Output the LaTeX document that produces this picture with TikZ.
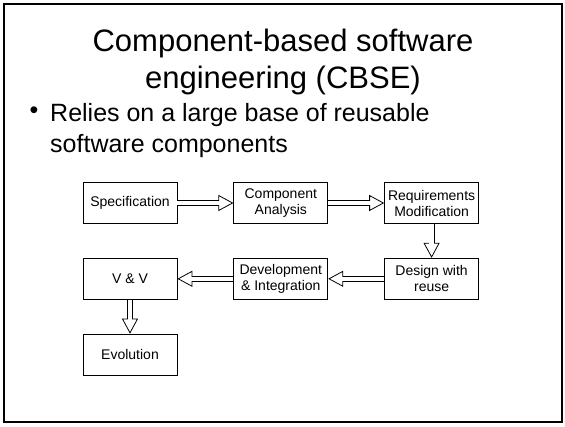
\documentclass[tikz,border=0pt]{standalone}
\usepackage{fontspec}
\setmainfont{Liberation Sans}
\usepackage{xcolor}
\usepackage{tikz}
\usetikzlibrary{positioning,arrows.meta}
\newcommand{\stepnode}[3]{
\node (#1) [#2]{#3};}
\tikzstyle{process}=[rectangle, draw=black, line width=0.8pt, minimum width=94pt, minimum height=41pt,
        inner sep=1pt, align=center, font=\fontsize{14}{16}\selectfont]
\tikzstyle{flowLine}=[line width=0.8pt, double=white, double distance=4.5pt,
        -{Triangle[open,width=16pt,length=15pt,line width=0.8pt]},
        postaction={draw=white, line width=4.5pt, -, shorten >=12pt, shorten <=0.5pt}]
\tikzstyle{slidetext}=[inner sep=0pt, align=center]

\begin{document}
\begin{tikzpicture}[x=1pt, y=-1pt, node distance=34pt and 56pt]
\useasboundingbox (0,0) rectangle (565,427);
\draw[line width=2.5pt] (4,4) rectangle (562,422);

\node (title) [slidetext, anchor=north, font=\fontsize{31}{37}\selectfont] at (283,29)
  {Component-based software\\engineering (CBSE)};
\node (bullet) [slidetext, font=\fontsize{25}{31}\selectfont] at (34,113) {\textbullet};
\node (point) [slidetext, align=left, anchor=north west, font=\fontsize{25}{31}\selectfont] at (50,103)
  {Relies on a large base of reusable\\software components};

\node (Spec) [process] at (130,203) {Specification};
\stepnode{Comp}{process, right=of Spec}{Component\\Analysis}
\stepnode{Req}{process, right=of Comp}{Requirements\\Modification}
\stepnode{Design}{process, below=of Req}{Design with\\reuse}
\stepnode{Dev}{process, left=of Design}{Development\\\& Integration}
\stepnode{VV}{process, left=of Dev}{V \& V}
\stepnode{Evol}{process, below=of VV}{Evolution}

\draw[flowLine] (Spec) -- (Comp);
\draw[flowLine] (Comp) -- (Req);
\draw[flowLine] (Req) -- (Design);
\draw[flowLine] (Design) -- (Dev);
\draw[flowLine] (Dev) -- (VV);
\draw[flowLine] (VV) -- (Evol);

\end{tikzpicture}
\end{document}
